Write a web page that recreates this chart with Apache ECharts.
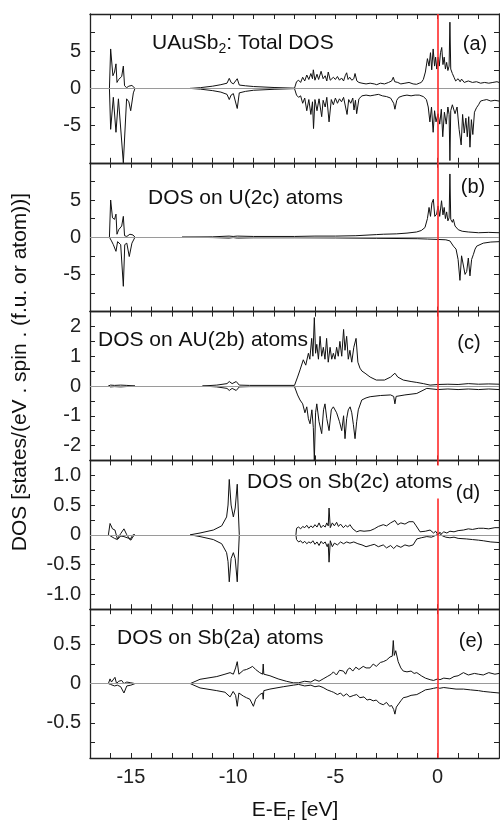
<!DOCTYPE html>
<html><head><meta charset="utf-8">
<script src="https://cdn.jsdelivr.net/npm/echarts@6/dist/echarts.min.js"></script>
<style>html,body{margin:0;padding:0;background:#fff}#c{width:500px;height:822px}</style>
</head><body><div id="c"></div>
<script>
// ---- Energy range (eV) and tick labels ----
const xMin = -17, xMax = 3;
const xTickLabels = [-15, -10, -5, 0];

// ---- Panel (a) total DOS, spin up / spin down ----
const aUp = [[-16.05,0],[-15.99,5.3],[-15.88,1.7],[-15.8,2.2],[-15.73,3.3],[-15.68,0.8],[-15.6,1.2],[-15.45,1.6],[-15.37,3.0],[-15.31,0.35],[-15.21,0.1],[-15.1,0.3],[-14.95,0.4],[-14.8,0],[-14.79,null],
[-12.1,0],[-11.6,0.1],[-11.0,0.3],[-10.6,0.5],[-10.3,0.7],[-10.19,1.35],[-10.1,0.8],[-9.99,0.6],[-9.8,1.3],[-9.7,0.45],[-9.4,0.35],[-9.0,0.25],[-8.0,0.12],[-7.0,0.03],
[-6.95,0.1],[-6.9,0.9],[-6.8,1.1],[-6.7,0.8],[-6.6,1.5],[-6.5,1.0],[-6.4,1.8],[-6.3,1.2],[-6.2,2.0],[-6.12,1.3],[-6.08,2.5],[-6.0,1.1],[-5.9,1.9],[-5.82,1.2],[-5.7,2.3],[-5.6,1.3],[-5.5,1.7],[-5.42,1.0],[-5.35,2.2],[-5.25,1.1],[-5.1,1.5],[-5.0,1.2],[-4.9,1.6],[-4.8,1.1],[-4.7,1.4],[-4.6,1.0],[-4.52,1.7],[-4.45,2.1],[-4.38,1.2],[-4.3,1.5],[-4.2,1.1],[-4.1,1.3],[-4.04,2.0],[-3.95,1.0],[-3.85,0.8],[-3.7,0.7],[-3.5,0.6],[-3.3,0.7],[-3.1,0.6],[-2.98,0.5],[-2.8,0.7],[-2.6,0.6],[-2.4,0.8],[-2.25,1.0],[-2.17,1.5],[-2.1,0.9],[-1.95,0.8],[-1.8,0.6],[-1.6,0.7],[-1.4,0.8],[-1.2,0.6],[-1.03,0.55],[-0.9,0.7],[-0.8,0.8],[-0.7,1.2],[-0.6,2.2],[-0.5,4.0],[-0.42,3.0],[-0.35,4.8],[-0.29,2.5],[-0.22,5.3],[-0.15,3.0],[-0.1,4.2],[-0.04,2.6],[0.02,4.2],[0.08,3.0],[0.14,4.8],[0.2,5.5],[0.26,3.2],[0.32,4.2],[0.38,2.6],[0.44,3.5],[0.5,2.4],[0.56,3.0],[0.6,8.9],[0.64,2.6],[0.72,2.0],[0.8,1.5],[0.88,1.0],[1.0,1.3],[1.1,0.9],[1.17,1.25],[1.3,0.8],[1.5,1.0],[1.7,0.8],[1.9,0.9],[2.1,0.7],[2.3,0.8],[2.5,0.7],[2.7,0.8],[2.9,0.9],[3.0,0.8]];
const aDown = [[-16.05,0],[-15.99,-5.5],[-15.86,-1.2],[-15.73,-5.9],[-15.61,-1.4],[-15.37,-10],[-15.21,-1.4],[-15.1,-1.8],[-15.01,-3.0],[-14.88,-0.6],[-14.8,0],[-14.79,null],
[-12.1,0],[-11.6,-0.1],[-11.0,-0.3],[-10.6,-0.5],[-10.3,-0.8],[-10.19,-1.5],[-10.1,-0.9],[-9.99,-0.7],[-9.8,-2.7],[-9.7,-0.6],[-9.4,-0.4],[-9.0,-0.25],[-8.0,-0.12],[-7.0,-0.03],
[-6.95,-0.1],[-6.9,-0.9],[-6.8,-1.2],[-6.7,-1.0],[-6.6,-2.0],[-6.5,-1.3],[-6.4,-3.0],[-6.3,-1.5],[-6.2,-3.5],[-6.12,-1.8],[-6.07,-5.4],[-6.0,-1.5],[-5.9,-3.0],[-5.8,-1.4],[-5.67,-3.8],[-5.6,-1.6],[-5.5,-2.5],[-5.42,-1.2],[-5.31,-4.5],[-5.2,-1.5],[-5.1,-2.2],[-5.0,-1.3],[-4.9,-2.0],[-4.8,-1.4],[-4.7,-1.8],[-4.6,-1.2],[-4.43,-3.5],[-4.35,-1.5],[-4.25,-2.0],[-4.15,-1.3],[-4.09,-2.9],[-4.02,-1.6],[-3.96,-3.4],[-3.85,-1.4],[-3.7,-1.0],[-3.5,-0.9],[-3.3,-1.0],[-3.1,-0.9],[-2.9,-0.8],[-2.7,-1.0],[-2.5,-1.1],[-2.3,-1.3],[-2.15,-2.0],[-2.09,-2.8],[-2.0,-1.6],[-1.9,-1.2],[-1.7,-1.0],[-1.5,-0.9],[-1.3,-1.0],[-1.1,-0.9],[-0.9,-0.9],[-0.7,-1.1],[-0.55,-1.5],[-0.46,-2.5],[-0.38,-4.5],[-0.3,-2.5],[-0.22,-5.9],[-0.15,-3.0],[-0.08,-4.5],[0.02,-3.4],[0.1,-4.8],[0.18,-2.8],[0.25,-6.5],[0.33,-3.2],[0.42,-4.8],[0.5,-2.5],[0.56,-3.5],[0.6,-9.7],[0.64,-3.0],[0.72,-2.2],[0.85,-3.4],[0.95,-2.5],[1.05,-5.5],[1.15,-7.6],[1.22,-3.5],[1.3,-6.0],[1.38,-4.0],[1.45,-6.5],[1.52,-3.8],[1.58,-7.9],[1.65,-4.2],[1.72,-6.2],[1.8,-3.2],[1.9,-2.6],[2.0,-2.2],[2.1,-1.7],[2.23,-1.6],[2.4,-1.5],[2.6,-1.7],[2.8,-1.6],[3.0,-1.7]];

// ---- Panel (b) U(2c) ----
const bUp = [[-16.05,0],[-15.99,5.0],[-15.9,2.6],[-15.8,2.4],[-15.73,3.1],[-15.68,0.4],[-15.6,1.0],[-15.45,1.5],[-15.37,2.8],[-15.31,0.2],[-15.2,0.1],[-15.05,0.4],[-14.9,0.3],[-14.8,0],[-14.79,null],
[-12.5,0],[-11.0,0.05],[-10.2,0.15],[-10.0,0.1],[-9.8,0.15],[-9.0,0.1],[-7.0,0.1],[-6.0,0.15],[-5.0,0.15],[-4.0,0.2],[-3.0,0.35],[-2.66,0.4],[-2.0,0.45],[-1.5,0.55],[-1.03,0.7],[-0.8,0.9],[-0.62,1.3],[-0.5,2.5],[-0.42,4.0],[-0.35,2.8],[-0.28,4.6],[-0.21,5.1],[-0.14,2.8],[-0.05,3.1],[0.02,4.2],[0.1,2.8],[0.19,4.9],[0.26,3.0],[0.32,4.0],[0.38,2.5],[0.44,3.4],[0.5,2.2],[0.56,2.6],[0.6,8.5],[0.64,2.4],[0.72,2.0],[0.77,2.4],[0.85,1.5],[1.01,1.0],[1.2,0.8],[1.5,0.7],[2.0,0.6],[2.5,0.65],[3.0,0.6]];
const bDown = [[-16.05,0],[-15.95,-0.5],[-15.86,-1.0],[-15.73,-1.9],[-15.65,-0.6],[-15.5,-1.0],[-15.37,-6.6],[-15.3,-1.0],[-15.2,-0.8],[-15.08,-2.6],[-14.95,-0.8],[-14.8,0],[-14.79,null],
[-12.5,0],[-11.0,-0.05],[-10.2,-0.12],[-10.0,-0.05],[-9.8,-0.12],[-9.0,-0.08],[-7.0,-0.08],[-5.0,-0.1],[-3.0,-0.15],[-1.0,-0.2],[-0.5,-0.25],[0.0,-0.3],[0.4,-0.35],[0.6,-0.5],[0.77,-1.2],[0.9,-1.6],[1.0,-3.0],[1.09,-5.8],[1.17,-2.5],[1.26,-2.3],[1.34,-5.0],[1.42,-4.6],[1.5,-2.8],[1.58,-5.2],[1.66,-3.0],[1.75,-2.3],[1.83,-1.6],[1.91,-1.2],[2.23,-0.8],[2.6,-0.65],[3.0,-0.6]];

// ---- Panel (c) Au(2b) ----
const cUp = [[-16.1,0],[-16.0,0.03],[-15.8,0.02],[-15.5,0.03],[-15.2,0.02],[-14.8,0],[-14.79,null],
[-11.5,0],[-10.8,0.03],[-10.3,0.08],[-10.19,0.15],[-10.05,0.08],[-9.85,0.15],[-9.7,0.03],[-9.2,0.02],[-7.0,0.02],
[-6.93,0],[-6.85,0.3],[-6.73,0.54],[-6.65,0.5],[-6.57,0.88],[-6.45,0.7],[-6.32,1.1],[-6.25,0.9],[-6.16,1.6],[-6.1,1.0],[-6.03,2.3],[-5.97,1.1],[-5.91,1.4],[-5.83,0.9],[-5.75,1.67],[-5.67,1.0],[-5.59,1.3],[-5.51,0.9],[-5.43,1.6],[-5.35,0.8],[-5.26,1.3],[-5.18,0.9],[-5.1,1.1],[-5.02,0.9],[-4.94,1.3],[-4.86,1.0],[-4.78,1.5],[-4.69,1.0],[-4.6,1.9],[-4.53,1.2],[-4.45,1.67],[-4.37,0.9],[-4.29,1.2],[-4.2,0.8],[-4.1,1.3],[-3.99,1.6],[-3.9,0.8],[-3.8,0.6],[-3.7,0.5],[-3.55,0.43],[-3.3,0.3],[-3.0,0.2],[-2.6,0.2],[-2.3,0.3],[-2.09,0.43],[-1.95,0.3],[-1.68,0.2],[-1.3,0.15],[-1.02,0.12],[-0.7,0.08],[-0.37,0.03],[0.0,0.05],[0.5,0.06],[1.0,0.05],[1.5,0.08],[2.0,0.06],[2.5,0.07],[3.0,0.06]];
const cDown = [[-16.1,0],[-16.0,-0.03],[-15.8,-0.02],[-15.5,-0.03],[-14.8,0],[-14.79,null],
[-11.5,0],[-10.8,-0.03],[-10.3,-0.08],[-10.19,-0.15],[-10.05,-0.08],[-9.85,-0.15],[-9.7,-0.03],[-9.2,-0.02],[-7.0,-0.02],
[-6.93,0],[-6.85,-0.3],[-6.73,-0.47],[-6.6,-0.6],[-6.49,-0.9],[-6.4,-0.7],[-6.32,-1.1],[-6.24,-1.27],[-6.15,-0.8],[-6.08,-1.4],[-6.03,-2.5],[-5.97,-0.9],[-5.91,-0.6],[-5.8,-1.2],[-5.67,-1.6],[-5.58,-0.8],[-5.51,-0.6],[-5.42,-1.1],[-5.31,-1.5],[-5.2,-0.8],[-5.1,-0.7],[-4.94,-0.9],[-4.8,-1.2],[-4.69,-1.5],[-4.6,-1.0],[-4.53,-1.77],[-4.45,-1.1],[-4.37,-0.8],[-4.28,-0.7],[-4.2,-0.9],[-4.12,-1.3],[-4.04,-1.77],[-3.96,-1.2],[-3.88,-0.8],[-3.71,-0.47],[-3.5,-0.4],[-3.3,-0.36],[-2.8,-0.32],[-2.3,-0.3],[-2.15,-0.35],[-2.09,-0.6],[-2.03,-0.35],[-1.6,-0.3],[-1.02,-0.25],[-0.53,-0.08],[0.0,-0.12],[0.5,-0.1],[1.0,-0.12],[1.5,-0.1],[2.0,-0.12],[2.5,-0.1],[3.0,-0.12]];

// ---- Panel (d) Sb(2c) ----
const dUp = [[-16.1,0],[-16.02,0.19],[-15.9,0.1],[-15.78,0.08],[-15.66,-0.07],[-15.5,0.02],[-15.34,0.1],[-15.2,0.0],[-15.04,-0.08],[-14.9,0],[-14.8,0],[-14.79,null],
[-12.1,0],[-11.62,0.03],[-10.97,0.08],[-10.56,0.15],[-10.32,0.3],[-10.25,0.5],[-10.19,0.93],[-10.1,0.5],[-9.99,0.3],[-9.9,0.45],[-9.8,0.85],[-9.7,0],[-9.69,null],
[-6.93,0],[-6.9,0.11],[-6.8,0.13],[-6.7,0.1],[-6.6,0.14],[-6.5,0.12],[-6.4,0.16],[-6.3,0.11],[-6.2,0.15],[-6.1,0.12],[-6.0,0.17],[-5.9,0.13],[-5.8,0.2],[-5.7,0.12],[-5.6,0.16],[-5.5,0.13],[-5.42,0.2],[-5.35,0.15],[-5.31,0.45],[-5.25,0.12],[-5.15,0.2],[-5.05,0.15],[-4.94,0.21],[-4.85,0.14],[-4.75,0.18],[-4.61,0.12],[-4.5,0.16],[-4.4,0.13],[-4.29,0.17],[-4.15,0.1],[-3.96,0.05],[-3.8,0.07],[-3.6,0.06],[-3.3,0.07],[-3.1,0.1],[-2.9,0.14],[-2.66,0.17],[-2.5,0.15],[-2.3,0.2],[-2.09,0.24],[-1.95,0.17],[-1.8,0.2],[-1.6,0.18],[-1.4,0.22],[-1.19,0.22],[-1.05,0.15],[-0.86,0.05],[-0.6,0.06],[-0.37,0.08],[-0.2,0.03],[-0.1,0.06],[0.0,0.01],[0.1,0.04],[0.2,0.02],[0.3,0.05],[0.45,0.03],[0.6,0.06],[0.8,0.05],[1.0,0.07],[1.26,0.08],[1.5,0.1],[1.7,0.09],[2.0,0.11],[2.23,0.11],[2.5,0.1],[2.8,0.12],[3.0,0.12]];
const dDown = [[-16.1,0],[-16.0,-0.02],[-15.8,-0.06],[-15.66,-0.08],[-15.5,-0.02],[-15.34,-0.03],[-15.1,-0.06],[-15.0,-0.09],[-14.9,-0.03],[-14.8,0],[-14.79,null],
[-12.1,0],[-11.62,-0.03],[-10.97,-0.08],[-10.56,-0.15],[-10.32,-0.3],[-10.25,-0.45],[-10.19,-0.79],[-10.1,-0.4],[-9.99,-0.3],[-9.9,-0.4],[-9.8,-0.79],[-9.7,0],[-9.69,null],
[-6.93,0],[-6.9,-0.08],[-6.8,-0.12],[-6.7,-0.1],[-6.6,-0.14],[-6.5,-0.11],[-6.4,-0.15],[-6.3,-0.12],[-6.2,-0.14],[-6.1,-0.1],[-6.0,-0.16],[-5.9,-0.12],[-5.8,-0.18],[-5.7,-0.11],[-5.6,-0.15],[-5.5,-0.12],[-5.4,-0.2],[-5.35,-0.15],[-5.31,-0.46],[-5.25,-0.1],[-5.15,-0.2],[-5.05,-0.14],[-4.9,-0.17],[-4.75,-0.12],[-4.6,-0.15],[-4.45,-0.12],[-4.29,-0.14],[-4.1,-0.12],[-3.9,-0.15],[-3.7,-0.17],[-3.5,-0.2],[-3.3,-0.18],[-3.1,-0.16],[-2.9,-0.2],[-2.66,-0.17],[-2.5,-0.22],[-2.3,-0.18],[-2.15,-0.23],[-2.0,-0.18],[-1.8,-0.21],[-1.6,-0.17],[-1.4,-0.19],[-1.2,-0.17],[-1.02,-0.07],[-0.8,-0.05],[-0.53,-0.03],[-0.3,-0.04],[-0.1,-0.01],[0.1,0.02],[0.25,-0.02],[0.4,-0.04],[0.6,-0.05],[0.8,-0.04],[1.0,-0.06],[1.42,-0.07],[1.7,-0.08],[2.0,-0.09],[2.23,-0.1],[2.6,-0.12],[3.0,-0.13]];

// ---- Panel (e) Sb(2a) ----
const eUp = [[-16.1,0],[-16.02,0.06],[-15.95,0.02],[-15.78,0.08],[-15.7,0.0],[-15.6,0.03],[-15.45,0.04],[-15.34,0.0],[-15.2,0.02],[-15.0,0.01],[-14.8,0],[-14.79,null],
[-12.1,0],[-11.62,0.055],[-10.8,0.09],[-10.4,0.12],[-10.15,0.14],[-9.99,0.12],[-9.88,0.2],[-9.8,0.28],[-9.72,0.12],[-9.5,0.17],[-9.35,0.18],[-9.18,0.2],[-9.05,0.22],[-8.9,0.18],[-8.7,0.14],[-8.56,0.12],[-8.53,0.25],[-8.5,0.12],[-8.2,0.1],[-7.8,0.06],[-7.4,0.03],[-7.06,0.01],[-6.8,0.01],[-6.5,0.03],[-6.2,0.02],[-6.0,0.05],[-5.8,0.03],[-5.6,0.06],[-5.4,0.09],[-5.2,0.12],[-5.1,0.15],[-4.95,0.11],[-4.8,0.17],[-4.61,0.16],[-4.5,0.12],[-4.4,0.18],[-4.29,0.2],[-4.15,0.16],[-4.0,0.21],[-3.85,0.18],[-3.64,0.22],[-3.5,0.2],[-3.31,0.2],[-3.15,0.25],[-3.0,0.22],[-2.8,0.27],[-2.66,0.28],[-2.5,0.3],[-2.33,0.34],[-2.22,0.35],[-2.17,0.55],[-2.12,0.36],[-2.05,0.42],[-1.93,0.28],[-1.8,0.2],[-1.68,0.16],[-1.5,0.15],[-1.3,0.16],[-1.15,0.13],[-1.02,0.14],[-0.8,0.1],[-0.6,0.07],[-0.37,0.05],[-0.2,0.04],[0.0,0.06],[0.11,0.05],[0.3,0.07],[0.6,0.06],[0.8,0.09],[1.0,0.1],[1.26,0.14],[1.5,0.11],[1.8,0.13],[2.0,0.12],[2.23,0.11],[2.5,0.14],[2.8,0.12],[3.0,0.13]];
const eDown = [[-16.1,0],[-16.0,-0.01],[-15.8,-0.03],[-15.66,-0.02],[-15.5,-0.04],[-15.34,-0.12],[-15.2,-0.03],[-15.0,-0.02],[-14.8,0],[-14.79,null],
[-12.1,0],[-11.62,-0.055],[-10.8,-0.09],[-10.4,-0.11],[-10.15,-0.17],[-10.0,-0.1],[-9.88,-0.15],[-9.8,-0.29],[-9.72,-0.12],[-9.5,-0.16],[-9.35,-0.18],[-9.18,-0.2],[-9.01,-0.29],[-8.9,-0.2],[-8.7,-0.14],[-8.56,-0.12],[-8.53,-0.2],[-8.5,-0.09],[-8.2,-0.07],[-7.55,-0.04],[-7.06,-0.02],[-6.8,-0.01],[-6.5,-0.03],[-6.2,-0.02],[-6.0,-0.04],[-5.8,-0.03],[-5.6,-0.05],[-5.4,-0.08],[-5.2,-0.1],[-5.1,-0.11],[-4.9,-0.14],[-4.75,-0.12],[-4.61,-0.16],[-4.45,-0.13],[-4.3,-0.17],[-4.1,-0.15],[-3.96,-0.14],[-3.8,-0.18],[-3.6,-0.17],[-3.45,-0.21],[-3.31,-0.2],[-3.15,-0.22],[-3.0,-0.21],[-2.85,-0.25],[-2.66,-0.27],[-2.5,-0.24],[-2.35,-0.29],[-2.25,-0.28],[-2.15,-0.33],[-2.09,-0.39],[-2.02,-0.3],[-1.93,-0.28],[-1.8,-0.22],[-1.68,-0.18],[-1.5,-0.17],[-1.3,-0.15],[-1.02,-0.14],[-0.8,-0.11],[-0.6,-0.08],[-0.37,-0.07],[-0.2,-0.06],[0.0,-0.05],[0.1,-0.06],[0.3,-0.05],[0.6,-0.06],[0.9,-0.07],[1.26,-0.07],[1.6,-0.08],[2.0,-0.09],[2.23,-0.1],[2.6,-0.11],[3.0,-0.12]];

// ---- Per-panel y ranges / ticks / labels ----
const yMins = [-10, -10, -2.5, -1.25, -0.95];
const yMaxs = [10, 10, 2.5, 1.25, 0.95];
const yTicks = [
  [-10,-7.5,-5,-2.5,0,2.5,5,7.5,10],
  [-10,-7.5,-5,-2.5,0,2.5,5,7.5,10],
  [-2.5,-2,-1.5,-1,-0.5,0,0.5,1,1.5,2,2.5],
  [-1.25,-1,-0.75,-0.5,-0.25,0,0.25,0.5,0.75,1,1.25],
  [-0.75,-0.5,-0.25,0,0.25,0.5,0.75]
];
const yLabels = [
  [-5,0,5],[-5,0,5],[-2,-1,0,1,2],[-1,-0.5,0,0.5,1],[-0.5,0,0.5]
];
const ups = [aUp, bUp, cUp, dUp, eUp];
const downs = [aDown, bDown, cDown, dDown, eDown];
const panelNames = ['(a)','(b)','(c)','(d)','(e)'];

const FONT = "'Liberation Sans', Arial, Helvetica, sans-serif";
const TOP = 14, PH = 148.8, LEFT = 90, PW = 409;
const xTickVals = [];
for (let v = xMin; v <= xMax; v++) xTickVals.push(v);

const grids = [], xAxes = [], yAxes = [], series = [];
for (let i = 0; i < 5; i++) {
  grids.push({left: LEFT, width: PW, top: TOP + i*PH, height: PH, show: false});
  const xBase = {
    gridIndex: i, type: 'value', min: xMin, max: xMax, interval: 1,
    axisLine: {show: true, onZero: false, lineStyle: {color: '#222', width: 1.3}},
    axisTick: {show: true, inside: true, length: 5, lineStyle: {color: '#222', width: 1}},
    splitLine: {show: false}
  };
  xAxes.push(Object.assign({}, xBase, {position: 'bottom',
    axisLabel: {show: i === 4, customValues: xTickLabels, fontSize: 20, color: '#222', fontFamily: FONT, margin: 9}}));
  xAxes.push(Object.assign({}, xBase, {position: 'top', axisLabel: {show: false}}));
  const fmt = (v) => {
    if (v === 0) return '0';
    if (i === 3) return v.toFixed(1);
    return String(v);
  };
  const yBase = {
    gridIndex: i, type: 'value', min: yMins[i], max: yMaxs[i],
    axisLine: {show: true, onZero: false, lineStyle: {color: '#222', width: 1.3}},
    axisTick: {show: true, inside: true, length: 5, customValues: yTicks[i], lineStyle: {color: '#222', width: 1}},
    splitLine: {show: false}
  };
  yAxes.push(Object.assign({}, yBase, {position: 'left',
    axisLabel: {show: true, customValues: yLabels[i], formatter: fmt, fontSize: 20, color: '#222', fontFamily: FONT, margin: 9}}));
  yAxes.push(Object.assign({}, yBase, {position: 'right', axisLabel: {show: false}}));

  // zero line
  series.push({type: 'line', xAxisIndex: 2*i, yAxisIndex: 2*i, data: [], z: 1, silent: true,
    markLine: {silent: true, symbol: 'none', animation: false, label: {show: false},
      lineStyle: {color: '#9a9a9a', width: 1.2, type: 'solid'}, data: [{yAxis: 0}]}});
  // spin up / down
  [ups[i], downs[i]].forEach((d) => {
    series.push({type: 'line', xAxisIndex: 2*i, yAxisIndex: 2*i, data: d, z: 3,
      showSymbol: false, symbol: 'none', connectNulls: false, clip: true, silent: true,
      lineStyle: {color: '#111', width: 1}});
  });
  // Fermi level
  series.push({type: 'line', xAxisIndex: 2*i, yAxisIndex: 2*i, data: [], z: 5, silent: true,
    markLine: {silent: true, symbol: 'none', animation: false, label: {show: false},
      lineStyle: {color: '#ff2a2a', width: 1.6, type: 'solid'}, data: [{xAxis: 0}]}});
}

const txt = (x, y, text, opts) => Object.assign({
  type: 'text', x: x, y: y, z: 100,
  style: Object.assign({text: text, font: '21px ' + FONT, fill: '#111', align: 'left', verticalAlign: 'middle'}, opts || {})
});
const subRich = {n: {fontSize: 21, fontFamily: FONT, fill: '#111', color: '#111'},
                 s: {fontSize: 14, fontFamily: FONT, fill: '#111', color: '#111', padding: [12, 0, 0, 0]}};

const graphics = [
  txt(152, 43, '{n|UAuSb}{s|2}{n|: Total DOS}', {rich: subRich}),
  txt(148, 198, 'DOS on U(2c) atoms'),
  txt(98, 340, 'DOS on AU(2b) atoms'),
  txt(245, 482, 'DOS on Sb(2c) atoms', {backgroundColor: '#fff', padding: [6, 2, 6, 2]}),
  txt(117, 638, 'DOS on Sb(2a) atoms'),
  txt(475, 44, panelNames[0], {align: 'center', font: '20px ' + FONT}),
  txt(473, 187, panelNames[1], {align: 'center', font: '20px ' + FONT}),
  txt(469, 343, panelNames[2], {align: 'center', font: '20px ' + FONT}),
  txt(468, 493, panelNames[3], {align: 'center', font: '20px ' + FONT}),
  txt(471, 641, panelNames[4], {align: 'center', font: '20px ' + FONT}),
  txt(295, 810, '{n|E-E}{s|F}{n| [eV]}', {align: 'center', rich: subRich}),
  {type: 'text', x: 20, y: 372, rotation: Math.PI/2, z: 100,
   style: {text: 'DOS [states/(eV . spin . (f.u. or atom))]', font: '21px ' + FONT, fill: '#111', align: 'center', verticalAlign: 'middle'}}
];

const chart = echarts.init(document.getElementById('c'), null, {renderer: 'canvas'});
chart.setOption({
  animation: false,
  backgroundColor: '#fff',
  grid: grids, xAxis: xAxes, yAxis: yAxes, series: series,
  graphic: {elements: graphics}
});
</script></body></html>
